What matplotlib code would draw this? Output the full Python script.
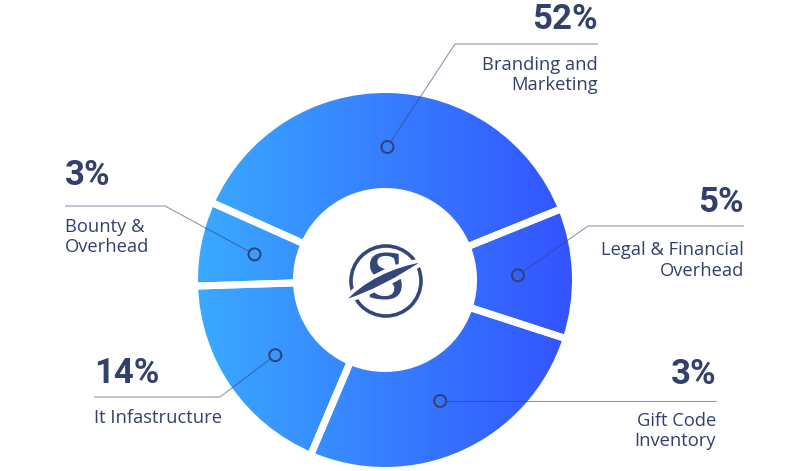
"""Donut chart of fund allocation with call-out labels, rebuilt in pixel coordinates."""

import numpy as np
import matplotlib
matplotlib.use("Agg")
import matplotlib.pyplot as plt
from matplotlib.colors import LinearSegmentedColormap
from matplotlib.patches import Wedge, Circle, PathPatch
from matplotlib.path import Path

W, H = 810, 471

segments = ["Branding and\nMarketing", "Bounty &\nOverhead", "It Infastructure",
            "Gift Code\nInventory", "Legal & Financial\nOverhead"]
percent_labels = ["52%", "3%", "14%", "3%", "5%"]
# share of the ring each segment takes in the picture (arcs don't follow the printed numbers)
wedge_share = [37.2, 7.2, 18.1, 26.4, 11.1]

NAVY = "#34406c"
LOGO = "#34467a"
LIGHT = "#3aabff"
DARK = "#3352ff"

CX, CY = 385, 280          # ring centre, pixels from top-left
R_OUT, R_IN = 187, 92
GAP = 7                    # white gap between segments, px
R_DOT = 133

# call-out layout (pixels, y from top): text x, alignment, elbow, baselines
layout = [
    dict(x=598, ha="right", elbow=(455, 44), num_y=29, lab_y=70),
    dict(x=65, ha="left", elbow=(165, 206), num_y=185, lab_y=232),
    dict(x=94, ha="left", elbow=(220, 397), num_y=383, lab_y=423),
    dict(x=716, ha="right", elbow=None, num_y=384, lab_y=426),
    dict(x=744, ha="right", elbow=(588, 226), num_y=212, lab_y=255),
]
LINE_GAP = 20.5
FONT = "Open Sans"
NUM_FONT = "Roboto"


def fy(y):
    return H - y


fig = plt.figure(figsize=(W / 100, H / 100), dpi=100)
ax = fig.add_axes([0, 0, 1, 1])
px = 72 / 100  # points per pixel

# gradient fill, clipped to the ring
grad = np.linspace(0, 1, 256).reshape(1, -1)
cmap = LinearSegmentedColormap.from_list("ring", [LIGHT, DARK])
im = ax.imshow(grad, cmap=cmap, aspect="auto", interpolation="bilinear", zorder=1,
               extent=(CX - R_OUT - 6, CX + R_OUT + 6, fy(CY) - R_OUT - 6, fy(CY) + R_OUT + 6))
ring = Wedge((CX, fy(CY)), R_OUT + GAP / 2, 0, 360, width=R_OUT - R_IN + GAP,
             transform=ax.transData)
im.set_clip_path(ring)

# segments: white outlines cut the gaps
wedges, _ = ax.pie(wedge_share, radius=R_OUT + GAP / 2, center=(CX, fy(CY)),
                   startangle=22, counterclock=True, frame=True,
                   wedgeprops=dict(width=R_OUT - R_IN + GAP, facecolor="none",
                                   edgecolor="white", linewidth=GAP * px, zorder=2))

for w, lay, pct, lab in zip(wedges, layout, percent_labels, segments):
    mid = np.deg2rad((w.theta1 + w.theta2) / 2)
    dx, dy = CX + R_DOT * np.cos(mid), fy(CY) + R_DOT * np.sin(mid)
    ax.add_patch(Circle((dx, dy), 6, facecolor="none", edgecolor=NAVY, lw=1.4, zorder=5))
    if lay["elbow"] is None:
        pts = [(dx, dy), (lay["x"], dy)]
    else:
        ex, ey = lay["elbow"]
        pts = [(dx, dy), (ex, fy(ey)), (lay["x"], fy(ey))]
    # start the line on the dot's edge
    vx, vy = pts[1][0] - dx, pts[1][1] - dy
    n = np.hypot(vx, vy)
    pts[0] = (dx + 6 * vx / n, dy + 6 * vy / n)
    xs, ys = zip(*pts)
    ax.plot(xs, ys, color=NAVY, alpha=0.55, lw=1.1 * px, zorder=4, solid_capstyle="butt")

    ax.text(lay["x"], fy(lay["num_y"]), pct, ha=lay["ha"], va="baseline",
            fontsize=25, fontweight="bold", color=NAVY, family=NUM_FONT)
    for i, line in enumerate(lab.split("\n")):
        ax.text(lay["x"], fy(lay["lab_y"] + i * LINE_GAP), line, ha=lay["ha"],
                va="baseline", fontsize=13.2, color=NAVY, family=FONT)

# centre logo
LX, LY = 386, 281
ax.add_patch(Circle((LX, fy(LY)), 35, facecolor="none", edgecolor=LOGO, lw=3.6 * px, zorder=6))
ax.text(LX - 1, fy(LY + 1), "S", ha="center", va="center", fontsize=50,
        fontweight="bold", family="Liberation Serif", color=LOGO, zorder=6)
swoosh = Path([(341, 303), (372, 268), (428, 259), (384, 290), (341, 303)],
              [Path.MOVETO, Path.CURVE3, Path.CURVE3, Path.CURVE3, Path.CURVE3])
swoosh = Path(np.column_stack([swoosh.vertices[:, 0], H - swoosh.vertices[:, 1]]), swoosh.codes)
ax.add_patch(PathPatch(swoosh, facecolor=LOGO, edgecolor="white", lw=4 * px, zorder=7))

ax.set_xlim(0, W)
ax.set_ylim(0, H)
ax.set_aspect("equal")
ax.axis("off")
fig.savefig("out.png", dpi=100, facecolor="white")
